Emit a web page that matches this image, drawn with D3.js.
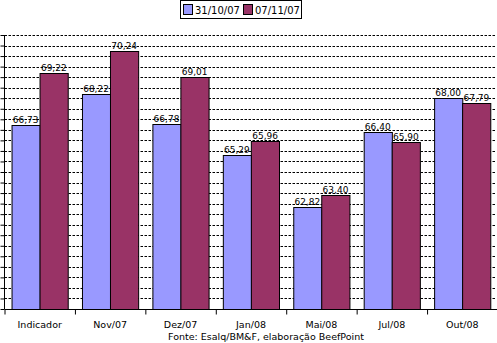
<!DOCTYPE html>
<html>
<head>
<meta charset="utf-8">
<script src="https://cdn.jsdelivr.net/npm/d3@7"></script>
<style>
  body { margin: 0; background: #fff; }
  svg { display: block; font-family: "DejaVu Sans", Verdana, sans-serif; }
</style>
</head>
<body>
<svg id="chart" width="497" height="343"></svg>
<script>
/* ---------------- DATA ---------------- */
const categories = ["Indicador", "Nov/07", "Dez/07", "Jan/08", "Mai/08", "Jul/08", "Out/08"];
const seriesNames = ["31/10/07", "07/11/07"];
const values3110 = [66.73, 68.22, 66.78, 65.29, 62.82, 66.40, 68.00];
const values0711 = [69.22, 70.24, 69.01, 65.96, 63.40, 65.90, 67.79];
const colors = ["#9999ff", "#993366"];
const source = "Fonte: Esalq/BM&F, elaboração BeefPoint";

const rows = categories.map((c, i) => ({ cat: c, vals: [values3110[i], values0711[i]] }));

/* ---------------- SCALES ---------------- */
const svg = d3.select("#chart");
const plot = { left: 4.5, right: 497.5, top: 35, bottom: 309 };

const x = d3.scaleBand()
  .domain(categories)
  .range([plot.left, plot.right])
  .paddingInner(0.2)
  .paddingOuter(0.1);

const x1 = d3.scaleBand()
  .domain([0, 1])
  .range([0, x.bandwidth()]);

const y = d3.scaleLinear()
  .domain([58, 71])
  .range([plot.bottom, plot.top]);

const gridTicks = d3.range(58.5, 71.01, 0.5);
const fmt = v => v.toFixed(2).replace(".", ",");

/* ---------------- GRID ---------------- */
svg.append("g")
  .selectAll("line")
  .data(gridTicks)
  .enter()
  .append("line")
  .attr("x1", plot.left)
  .attr("x2", 495)
  .attr("y1", d => Math.round(y(d)) + 0.5)
  .attr("y2", d => Math.round(y(d)) + 0.5)
  .attr("stroke", "#000")
  .attr("stroke-dasharray", "2.5,1.5");

/* ---------------- BARS ---------------- */
const groups = svg.append("g")
  .selectAll("g")
  .data(rows)
  .enter()
  .append("g")
  .attr("transform", d => `translate(${x(d.cat)},0)`);

groups.selectAll("rect")
  .data(d => d.vals)
  .enter()
  .append("rect")
  .attr("x", (d, i) => Math.round(x1(i)) + 0.5)
  .attr("y", d => Math.round(y(d)) + 0.5)
  .attr("width", x1.bandwidth())
  .attr("height", d => Math.round(plot.bottom) - Math.round(y(d)))
  .attr("fill", (d, i) => colors[i])
  .attr("stroke", "#000")
  .attr("stroke-width", 1);

groups.selectAll("text")
  .data(d => d.vals)
  .enter()
  .append("text")
  .attr("x", (d, i) => x1(i) + x1.bandwidth() / 2)
  .attr("y", d => y(d) - 2)
  .attr("text-anchor", "middle")
  .attr("font-size", "9px")
  .text(fmt);

/* ---------------- AXES ---------------- */
const yAxis = d3.axisLeft(y)
  .tickValues(gridTicks.concat([58]))
  .tickSize(4)
  .tickFormat("");

svg.append("g")
  .attr("transform", `translate(${plot.left},0)`)
  .call(yAxis)
  .call(g => g.select(".domain").attr("d", `M-0,${plot.top}V${plot.bottom}`));

const xAxis = d3.axisBottom(d3.scaleLinear().domain([0, 7]).range([plot.left, plot.right]))
  .tickValues(d3.range(0, 7))
  .tickSize(5)
  .tickFormat("");

svg.append("g")
  .attr("transform", `translate(0,${plot.bottom + 0.5})`)
  .call(xAxis)
  .call(g => g.select(".domain").attr("d", `M${plot.left},0H${plot.right}`));

svg.selectAll(".tick line, .domain").attr("stroke", "#000");

svg.append("g")
  .selectAll("text")
  .data(categories)
  .enter()
  .append("text")
  .attr("x", d => x(d) + x.bandwidth() / 2)
  .attr("y", 328)
  .attr("text-anchor", "middle")
  .attr("font-size", "9.5px")
  .text(d => d);

svg.append("text")
  .attr("x", 168)
  .attr("y", 340)
  .attr("font-size", "9.5px")
  .text(source);

/* ---------------- LEGEND ---------------- */
const legend = svg.append("g");
legend.append("rect")
  .attr("x", 180.5).attr("y", 0.5)
  .attr("width", 121).attr("height", 18)
  .attr("fill", "#fff").attr("stroke", "#000");

const items = legend.selectAll("g")
  .data(seriesNames)
  .enter()
  .append("g")
  .attr("transform", (d, i) => `translate(${183 + i * 60},0)`);

items.append("rect")
  .attr("x", 0.5).attr("y", 4.5)
  .attr("width", 9).attr("height", 10)
  .attr("fill", (d, i) => colors[i])
  .attr("stroke", "#000");

items.append("text")
  .attr("x", 12)
  .attr("y", 14)
  .attr("font-size", "10px")
  .text(d => d);
</script>
</body>
</html>
